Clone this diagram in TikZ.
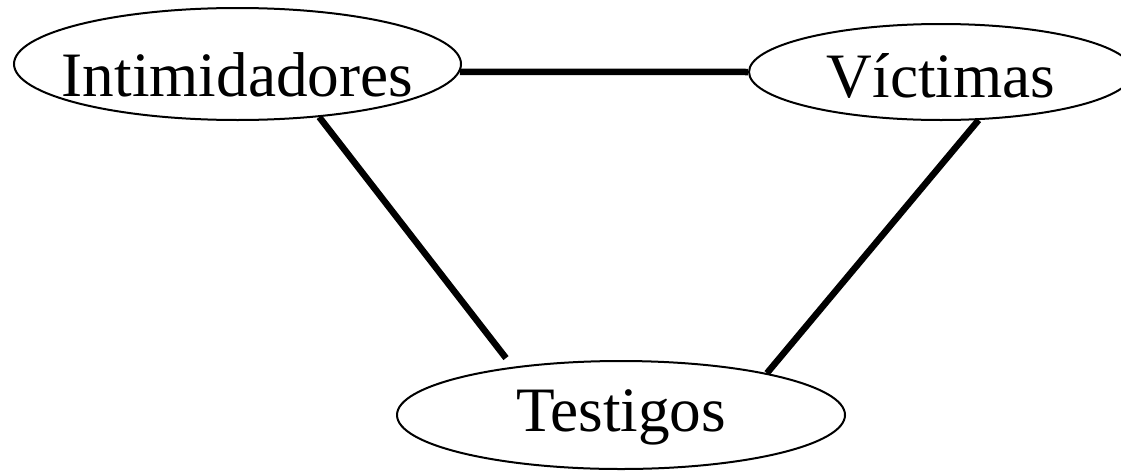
\documentclass[tikz,border=0pt]{standalone}
\usepackage{fontspec}
\setmainfont{Liberation Serif}
\usetikzlibrary{shapes.geometric}

\tikzset{
  oval/.style={ellipse, draw, line width=.02cm, inner xsep=-1cm, inner ysep=0pt,
    font=\fontsize{18}{20}\selectfont, text depth=0pt, text height=#1},
  tie/.style={line width=.065cm}
}

\begin{document}
\begin{tikzpicture}
\useasboundingbox (0,0) rectangle (11.21,4.70);

% the three groups
\node[oval=.64cm, minimum width=4.47cm, minimum height=1.12cm] (intim) at (2.375,4.06) {Intimidadores};
\node[oval=.50cm, minimum width=3.84cm, minimum height=.96cm] (victim) at (9.41,3.98) {Víctimas};
\node[oval=.32cm, minimum width=4.48cm, minimum height=1.08cm] (testigo) at (6.21,.55) {Testigos};

% links between them
\draw[tie] (intim.-2) -- (victim.west);
\draw[tie, shorten >=.11cm] (intim.-33) -- (testigo.156);
\draw[tie] (victim.-52) -- (testigo.16);
\end{tikzpicture}
\end{document}
